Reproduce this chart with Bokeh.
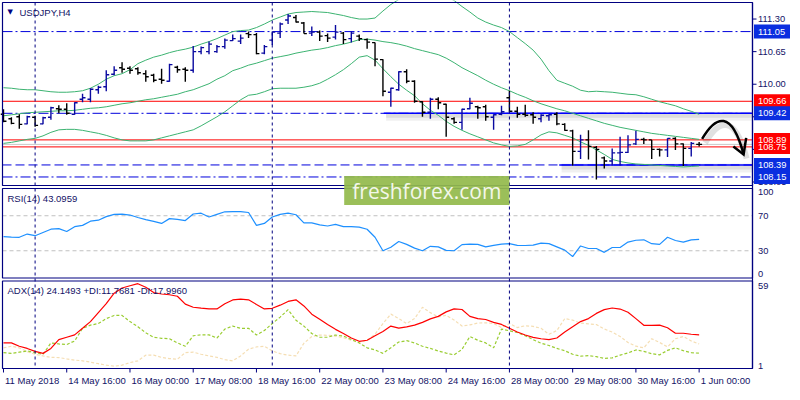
from bokeh.plotting import figure
from bokeh.models import Range1d, Label, ColumnDataSource
from bokeh.core.properties import value
from bokeh.embed import file_html
from bokeh.resources import INLINE

# ---------------- data (H4 bars, USDJPY) ----------------
open_ = [109.40,109.31,109.35,109.21,109.34,109.21,109.34,109.51,109.50,109.40,
         109.70,109.70,109.89,109.95,110.20,110.33,110.32,110.31,110.21,110.18,
         110.10,110.06,110.34,110.30,110.28,110.65,110.65,110.65,110.75,110.87,
         110.86,111.01,110.99,110.62,110.88,111.02,111.28,111.33,111.22,111.02,
         111.04,110.97,110.94,111.02,110.91,110.96,110.89,110.83,110.49,109.84,
         109.89,110.25,110.06,109.65,109.44,109.70,109.60,109.31,109.24,109.51,
         109.55,109.55,109.34,109.40,109.73,109.46,109.40,109.39,109.31,109.37,
         109.40,109.20,109.07,108.66,108.89,108.74,108.53,108.47,108.63,108.64,
         108.81,108.90,108.89,108.70,108.69,108.92,108.81,108.72,108.80]
high = [109.50,109.34,109.40,109.37,109.37,109.35,109.55,109.58,109.62,109.64,
        109.81,109.92,109.97,110.28,110.36,110.44,110.36,110.34,110.28,110.21,
        110.31,110.41,110.37,110.34,110.76,110.75,110.85,110.78,110.91,110.99,
        110.99,111.05,111.02,110.78,111.05,111.23,111.40,111.38,111.24,111.15,
        111.07,111.01,111.18,111.04,111.05,110.99,110.91,110.83,110.50,109.93,
        110.26,110.30,110.08,109.66,109.73,109.74,109.61,109.34,109.51,109.73,
        109.57,109.59,109.40,109.57,109.87,109.55,109.59,109.44,109.40,109.40,
        109.44,109.22,109.09,108.99,109.08,108.77,108.56,108.72,108.95,108.98,
        109.07,108.93,108.89,108.72,108.92,108.94,108.82,108.85,108.85]
low = [109.24,109.20,109.11,109.20,109.15,109.20,109.29,109.42,109.39,109.39,
       109.64,109.64,109.81,109.86,110.18,110.23,110.21,110.19,110.05,110.04,
       110.01,110.05,110.23,110.05,110.23,110.60,110.60,110.63,110.71,110.86,
       110.80,110.92,110.60,110.60,110.78,110.92,111.20,111.23,111.01,110.96,
       110.86,110.84,110.89,110.80,110.83,110.86,110.71,110.36,109.76,109.55,
       109.87,110.02,109.63,109.35,109.31,109.50,108.95,109.21,109.09,109.50,
       109.31,109.27,109.09,109.38,109.44,109.33,109.35,109.21,109.24,109.27,
       109.18,109.07,108.38,108.51,108.50,108.10,108.32,108.38,108.38,108.63,
       108.79,108.81,108.51,108.56,108.55,108.69,108.37,108.56,108.76]
close = [109.26,109.22,109.20,109.35,109.18,109.33,109.53,109.50,109.42,109.63,
         109.73,109.90,109.94,110.19,110.28,110.30,110.28,110.23,110.15,110.08,
         110.08,110.39,110.29,110.28,110.65,110.73,110.80,110.75,110.88,110.91,
         110.92,110.99,110.61,110.75,111.04,111.20,111.36,111.24,111.01,111.04,
         110.96,110.92,111.04,110.89,111.02,110.91,110.84,110.50,109.86,109.92,
         110.25,110.06,109.66,109.44,109.70,109.63,109.34,109.24,109.50,109.62,
         109.53,109.35,109.39,109.45,109.46,109.40,109.38,109.34,109.38,109.39,
         109.21,109.08,108.66,108.89,108.76,108.70,108.47,108.63,108.64,108.79,
         108.90,108.89,108.70,108.69,108.92,108.81,108.72,108.82,108.80]

bb_upper = [109.93,109.92,109.90,109.89,109.89,109.87,109.85,109.84,109.84,109.85,
            109.87,109.92,110.00,110.10,110.17,110.21,110.29,110.41,110.48,110.54,
            110.58,110.63,110.67,110.70,110.74,110.80,110.85,110.91,110.98,111.05,
            111.07,111.08,111.13,111.20,111.28,111.34,111.40,111.43,111.44,111.45,
            111.44,111.43,111.40,111.37,111.33,111.30,111.30,111.32,111.46,111.59,
            111.69,111.76,111.80,111.83,111.83,111.80,111.75,111.67,111.55,111.44,
            111.32,111.24,111.18,111.13,111.05,110.93,110.81,110.68,110.50,110.27,
            110.08,110.02,109.96,109.88,109.85,109.86,109.85,109.84,109.82,109.80,
            109.79,109.75,109.70,109.65,109.61,109.57,109.51,109.46,109.40]
bb_mid = [109.37,109.39,109.41,109.43,109.44,109.45,109.46,109.47,109.47,109.48,
          109.50,109.52,109.53,109.55,109.58,109.61,109.63,109.66,109.69,109.71,
          109.74,109.77,109.80,109.85,109.89,109.95,110.01,110.10,110.17,110.27,
          110.32,110.38,110.42,110.47,110.52,110.55,110.58,110.62,110.65,110.68,
          110.70,110.73,110.77,110.80,110.84,110.89,110.90,110.88,110.85,110.83,
          110.80,110.76,110.71,110.67,110.63,110.59,110.52,110.43,110.33,110.25,
          110.17,110.08,110.00,109.93,109.87,109.80,109.74,109.67,109.61,109.56,
          109.51,109.47,109.42,109.37,109.32,109.27,109.22,109.18,109.14,109.11,
          109.08,109.05,109.02,109.00,108.98,108.96,108.94,108.92,108.90]
bb_lower = [108.82,108.84,108.87,108.90,108.92,108.97,109.04,109.09,109.10,109.10,
            109.08,109.05,109.02,108.98,108.93,108.89,108.87,108.87,108.87,108.89,
            108.93,108.97,109.01,109.05,109.09,109.17,109.26,109.35,109.45,109.57,
            109.69,109.78,109.80,109.85,109.91,109.92,109.92,109.92,109.94,109.97,
            110.02,110.10,110.19,110.29,110.41,110.54,110.57,110.48,110.31,110.15,
            110.00,109.88,109.77,109.61,109.48,109.38,109.26,109.16,109.08,109.01,
            108.95,108.89,108.83,108.79,108.76,108.77,108.80,108.89,108.99,109.05,
            109.03,108.98,108.93,108.85,108.78,108.69,108.60,108.50,108.46,108.43,
            108.41,108.40,108.39,108.38,108.37,108.36,108.35,108.36,108.37]

rsi = [46.1,45.5,45.4,49.1,47.2,50.9,54.6,55.3,52.0,57.5,
       59.0,63.8,64.9,69.0,71.5,71.8,70.8,68.0,65.6,63.5,
       61.2,66.7,65.8,64.5,72.0,72.9,68.5,71.5,74.5,74.8,
       74.8,73.7,59.0,61.2,68.5,71.5,72.9,71.1,61.9,61.9,
       59.5,58.3,60.1,57.5,57.5,57.0,54.6,45.4,30.0,34.0,
       40.6,37.3,33.0,30.0,35.1,34.4,30.5,30.0,37.0,37.5,
       37.3,34.4,36.2,37.5,38.1,36.2,36.0,36.5,38.8,38.1,
       34.4,30.7,23.4,35.5,32.6,32.6,28.2,33.7,33.7,39.9,
       42.0,42.5,38.1,37.3,45.4,41.7,39.9,42.5,43.1]
adx = [18.7,18.7,16.5,15.0,13.0,11.7,15.0,20.9,22.5,24.1,
       28.5,33.0,39.0,45.0,52.0,55.5,57.0,58.4,56.0,52.5,
       51.5,51.0,50.0,44.7,42.6,42.0,41.5,41.5,45.0,47.5,
       48.0,47.6,44.5,41.5,41.9,44.0,46.5,47.6,43.5,38.0,
       34.5,31.0,27.8,25.0,22.0,19.8,20.5,23.5,26.3,30.0,
       28.6,29.5,30.6,32.5,34.8,36.5,39.5,41.5,41.1,36.5,
       35.0,34.4,32.5,31.1,28.5,26.0,24.0,22.4,21.5,20.9,
       22.0,26.0,29.6,33.0,35.0,38.5,41.0,42.1,41.4,39.3,
       35.0,30.5,30.4,30.6,28.9,25.2,25.2,24.5,24.1]
plus_di = [12.2,11.7,12.5,13.3,12.2,11.1,18.7,18.0,17.6,20.0,
           28.5,30.6,31.7,35.0,37.1,37.1,33.0,29.6,25.5,22.5,
           21.8,21.5,18.7,16.5,23.5,24.1,24.1,22.0,28.0,30.0,
           28.5,28.5,24.0,27.0,31.7,36.0,41.0,33.9,30.0,25.0,
           22.5,22.5,24.0,23.3,21.0,18.7,15.4,14.0,11.7,15.4,
           19.3,20.2,18.7,16.5,15.0,13.3,11.9,10.7,14.4,23.0,
           20.5,18.7,15.4,28.0,26.8,25.7,23.5,20.9,18.5,17.0,
           15.0,13.5,11.1,9.8,10.2,9.5,8.3,8.7,10.5,12.0,
           14.0,13.0,11.5,10.7,13.7,15.4,13.5,12.2,11.8]
minus_di = [15.4,16.5,15.4,12.8,11.1,10.0,9.0,8.9,8.0,7.2,
            6.7,5.8,4.8,3.8,3.1,3.8,5.5,6.7,10.5,10.5,
            9.0,8.2,7.8,12.2,12.5,11.1,10.0,9.0,7.5,6.7,
            10.0,14.5,16.0,16.5,13.3,11.5,10.5,10.0,18.5,23.0,
            24.0,23.8,23.3,22.2,20.5,19.0,20.5,24.5,31.7,38.0,
            35.0,31.7,35.0,42.6,39.0,36.1,37.2,34.0,30.0,30.8,
            32.0,32.2,31.7,29.0,31.7,29.0,30.2,29.8,28.5,24.5,
            27.0,35.0,34.0,32.0,31.5,31.0,28.0,26.0,23.0,19.0,
            16.5,15.4,21.5,19.0,16.0,21.5,23.0,20.0,18.0]

time_tick_bars = [0, 8, 16, 24, 32, 40, 48, 56, 64, 72, 80, 88]
time_tick_labels = ["11 May 2018", "14 May 16:00", "16 May 00:00", "17 May 08:00",
                    "18 May 16:00", "22 May 00:00", "23 May 08:00", "24 May 16:00",
                    "28 May 00:00", "29 May 08:00", "30 May 16:00", "1 Jun 00:00"]
week_separators = [4, 34, 64]
price_ticks = [111.30, 110.65, 110.00, 109.35, 108.70, 108.05]
red_levels = [109.66, 108.89, 108.75]
dashdot_levels = [111.05, 109.42, 108.15]
dash_levels = [108.39]
trend_starts = [48.1, 70.3]
trend_levels = [109.42, 108.39]
box_levels = [111.05, 109.66, 109.42, 108.89, 108.75, 108.39, 108.15]
box_colors = ["#0a2ee0", "#ff0000", "#0a2ee0", "#ff0000", "#ff0000", "#0a2ee0", "#0a2ee0"]
rsi_levels = [70, 30]
rsi_scale = [100, 70, 30, 0]
rsi_scale_base = ["top", "middle", "middle", "bottom"]
adx_scale = [59, 1]
adx_scale_base = ["top", "bottom"]
# forecast arrow (drawn annotation): start, control 1, control 2, end; head wings
arrow_x = [88.375, 90.125, 92.125, 93.625]
arrow_y = [108.91, 109.38, 109.49, 108.60]
head_x = [92.33, 93.625, 93.95]
head_y = [108.76, 108.60, 108.93]
watermark_box = (43.1, 64.0, 108.17, 107.59)

# ---------------- layout ----------------
W, H = 790, 390
NAVY = "#000080"
TXT = "#121266"
FONT = "Liberation Sans"
FS_SCALE = "9.3px"
FS_TEXT = "9.5px"

CHART_X = (-0.125, 94.75)          # bar units of the chart area
CHART_PX = (2, 752)                # its left/right edge on the canvas
PANEL_PX = {"main": (2, 185), "rsi": (188, 277.5), "adx": (280.5, 368)}
PANEL_VALS = {"main": (107.98, 111.63), "rsi": (-1.1, 101.1), "adx": (1.56, 60.2)}
CHART_BOTTOM_PX = 368

kx = (CHART_X[1] - CHART_X[0]) / (CHART_PX[1] - CHART_PX[0])
xr = Range1d(CHART_X[0] - CHART_PX[0] * kx, CHART_X[1] + (W - CHART_PX[1]) * kx)


def full_range(name):
    ptop, pbot = PANEL_PX[name]
    vbot, vtop = PANEL_VALS[name]
    per_px = (vtop - vbot) / (pbot - ptop)
    end = vtop + ptop * per_px
    return Range1d(start=end - H * per_px, end=end)


ranges = {k: full_range(k) for k in PANEL_PX}


def dy(name, px):
    r = ranges[name]
    return px * (r.end - r.start) / H


def yval(name, px):
    return ranges[name].end - dy(name, px)


def dx(px):
    return px * kx


p = figure(width=W, height=H, x_range=xr, y_range=ranges["main"],
           output_backend="svg", toolbar_location=None,
           x_axis_location=None, y_axis_location=None, min_border=0,
           background_fill_color="white", border_fill_color="white",
           outline_line_color=None)
p.extra_y_ranges = {"rsi": ranges["rsi"], "adx": ranges["adx"]}
p.grid.visible = False

X0, X1 = CHART_X
bars = list(range(len(close)))

# ---------------- main panel levels ----------------
n = len(dashdot_levels)
p.segment(x0=[X0] * n, x1=[X1] * n, y0=dashdot_levels, y1=dashdot_levels,
          line_color="#0000dd", line_width=1, line_dash="10 3 2 3")
p.segment(x0=[X0], x1=[X1], y0=dash_levels, y1=dash_levels,
          line_color="#0000dd", line_width=1, line_dash="9 4")
p.segment(x0=[X0], x1=[X1], y0=[close[-1]], y1=[close[-1]],
          line_color="#c8c8c8", line_width=1)
n = len(red_levels)
p.segment(x0=[X0] * n, x1=[X1] * n, y0=red_levels, y1=red_levels,
          line_color="#ff0000", line_width=1)

# shadows and solid trend lines
for xs, lv in zip(trend_starts, trend_levels):
    p.segment(x0=[xs + 0.3], y0=[lv - dy("main", 3)], x1=[X1], y1=[lv - dy("main", 3)],
              line_color="black", line_alpha=0.06, line_width=9)
    p.segment(x0=[xs + 0.3], y0=[lv - dy("main", 2.5)], x1=[X1], y1=[lv - dy("main", 2.5)],
              line_color="black", line_alpha=0.08, line_width=4)
    p.segment(x0=[xs], y0=[lv], x1=[X1], y1=[lv], line_color="#0000ff", line_width=1.5)

# Bollinger bands
for series in (bb_upper, bb_mid, bb_lower):
    p.line(bars, series, line_color="#3cb371", line_width=1)

# OHLC bars
colors = ["#0a0aa0" if c > o else "black" for o, c in zip(open_, close)]
src = ColumnDataSource(dict(x=bars, xl=[b - 0.375 for b in bars],
                            xr=[b + 0.375 for b in bars], o=open_, h=high,
                            l=low, c=close, col=colors))
p.segment(x0="x", y0="l", x1="x", y1="h", line_color="col", line_width=1.4, source=src)
p.segment(x0="xl", y0="o", x1="x", y1="o", line_color="col", line_width=1.4, source=src)
p.segment(x0="x", y0="c", x1="xr", y1="c", line_color="col", line_width=1.4, source=src)

# forecast arrow with soft shadow
sx, sy = dx(3), dy("main", 4)
p.bezier(x0=[arrow_x[0] + sx], y0=[arrow_y[0] - sy], x1=[arrow_x[3] + sx],
         y1=[arrow_y[3] - sy], cx0=[arrow_x[1] + sx], cy0=[arrow_y[1] - sy],
         cx1=[arrow_x[2] + sx], cy1=[arrow_y[2] - sy],
         line_color="black", line_alpha=0.12, line_width=6)
p.bezier(x0=[arrow_x[0]], y0=[arrow_y[0]], x1=[arrow_x[3]], y1=[arrow_y[3]],
         cx0=[arrow_x[1]], cy0=[arrow_y[1]], cx1=[arrow_x[2]], cy1=[arrow_y[2]],
         line_color="black", line_width=2.5)
p.line(head_x, head_y, line_color="black", line_width=2.5, line_join="miter")

# ---------------- RSI ----------------
n = len(rsi_levels)
p.segment(x0=[X0] * n, x1=[X1] * n, y0=rsi_levels, y1=rsi_levels, y_range_name="rsi",
          line_color="#c0c0c0", line_width=1, line_dash="4 3")
p.line(bars, rsi, y_range_name="rsi", line_color="#1e90ff", line_width=1.2)

# ---------------- ADX ----------------
p.line(bars, minus_di, y_range_name="adx", line_color="#f5deb3", line_width=1.2,
       line_dash="3 2")
p.line(bars, plus_di, y_range_name="adx", line_color="#9acd32", line_width=1.2,
       line_dash="3 2")
p.line(bars, adx, y_range_name="adx", line_color="#ff0000", line_width=1.2)

# ---------------- panel frames, separators, right scale line ----------------
for name in PANEL_PX:
    vbot, vtop = PANEL_VALS[name]
    p.quad(left=[X0], right=[X1], top=[vtop], bottom=[vbot], fill_color=None,
           line_color=NAVY, line_width=1.2,
           y_range_name=("default" if name == "main" else name))
ytop, ybot = yval("main", PANEL_PX["main"][0]), yval("main", CHART_BOTTOM_PX)
n = len(week_separators)
p.segment(x0=week_separators, x1=week_separators, y0=[ytop] * n, y1=[ybot] * n,
          line_color=NAVY, line_width=1, line_dash="3 3")
p.segment(x0=[X1], x1=[X1], y0=[ytop], y1=[ybot], line_color=NAVY, line_width=1.2)

# ---------------- watermark ----------------
wl, wr, wt, wb = watermark_box
p.quad(left=[wl], right=[wr], top=[wt], bottom=[wb], fill_color="#93ba4c",
       fill_alpha=0.93, line_color=None)
p.text(x=[(wl + wr) / 2], y=[(wt + wb) / 2], text=["freshforex.com"],
       text_align="center", text_baseline="middle", text_font_size="21px",
       text_font=value("Open Sans"), text_color="#f3f7ea")

# ---------------- right price scale ----------------
n = len(price_ticks)
p.segment(x0=[X1] * n, x1=[X1 + dx(4)] * n, y0=price_ticks, y1=price_ticks,
          line_color=NAVY, line_width=1)
p.text(x=[X1 + dx(5.5)] * n, y=price_ticks, text=[f"{t:.2f}" for t in price_ticks],
       text_font=value(FONT), text_font_size=FS_SCALE, text_color=TXT,
       text_baseline="middle", text_align="left")
n = len(box_levels)
p.quad(left=[X1 + dx(1.5)] * n, right=[xr.end] * n,
       top=[v + dy("main", 7) for v in box_levels],
       bottom=[v - dy("main", 7) for v in box_levels],
       fill_color=box_colors, line_color=None)
p.text(x=[X1 + dx(5.5)] * n, y=box_levels, text=[f"{v:.2f}" for v in box_levels],
       text_font=value(FONT), text_font_size=FS_SCALE, text_color="white",
       text_baseline="middle", text_align="left")

# indicator scales
p.text(x=[X1 + dx(5.5)] * len(rsi_scale), y=rsi_scale, y_range_name="rsi",
       text=[str(v) for v in rsi_scale], text_baseline=rsi_scale_base,
       text_font=value(FONT), text_font_size=FS_SCALE, text_color=TXT, text_align="left")
p.text(x=[X1 + dx(5.5)] * len(adx_scale), y=adx_scale, y_range_name="adx",
       text=[str(v) for v in adx_scale], text_baseline=adx_scale_base,
       text_font=value(FONT), text_font_size=FS_SCALE, text_color=TXT, text_align="left")

# ---------------- time scale ----------------
n = len(time_tick_bars)
yb = yval("adx", CHART_BOTTOM_PX)
p.segment(x0=time_tick_bars, x1=time_tick_bars, y0=[yb] * n,
          y1=[yval("adx", CHART_BOTTOM_PX + 4)] * n, y_range_name="adx",
          line_color=NAVY, line_width=1)
p.text(x=[b + dx(1.5) for b in time_tick_bars],
       y=[yval("adx", CHART_BOTTOM_PX + 11.5)] * n, y_range_name="adx",
       text=time_tick_labels, text_font=value(FONT), text_font_size=FS_TEXT,
       text_color=TXT, text_baseline="middle", text_align="left")

# ---------------- panel captions ----------------
p.add_layout(Label(x=X0, y=PANEL_VALS["main"][1], x_offset=5, y_offset=-5,
                   text="▼", text_font="DejaVu Sans", text_font_size="7px",
                   text_color=NAVY, text_baseline="top"))
p.add_layout(Label(x=X0, y=PANEL_VALS["main"][1], x_offset=17, y_offset=-4,
                   text="USDJPY,H4", text_font=FONT, text_font_size=FS_TEXT,
                   text_color=TXT, text_baseline="top"))
p.add_layout(Label(x=X0, y=PANEL_VALS["rsi"][1], y_range_name="rsi",
                   x_offset=5, y_offset=-4, text="RSI(14) 43.0959",
                   text_font=FONT, text_font_size=FS_TEXT, text_color=TXT,
                   text_baseline="top"))
p.add_layout(Label(x=X0, y=PANEL_VALS["adx"][1], y_range_name="adx",
                   x_offset=5, y_offset=-4,
                   text="ADX(14) 24.1493 +DI:11.7681 -DI:17.9960",
                   text_font=FONT, text_font_size=FS_TEXT, text_color=TXT,
                   text_baseline="top"))

open("out.html", "w").write(file_html(p, INLINE))
